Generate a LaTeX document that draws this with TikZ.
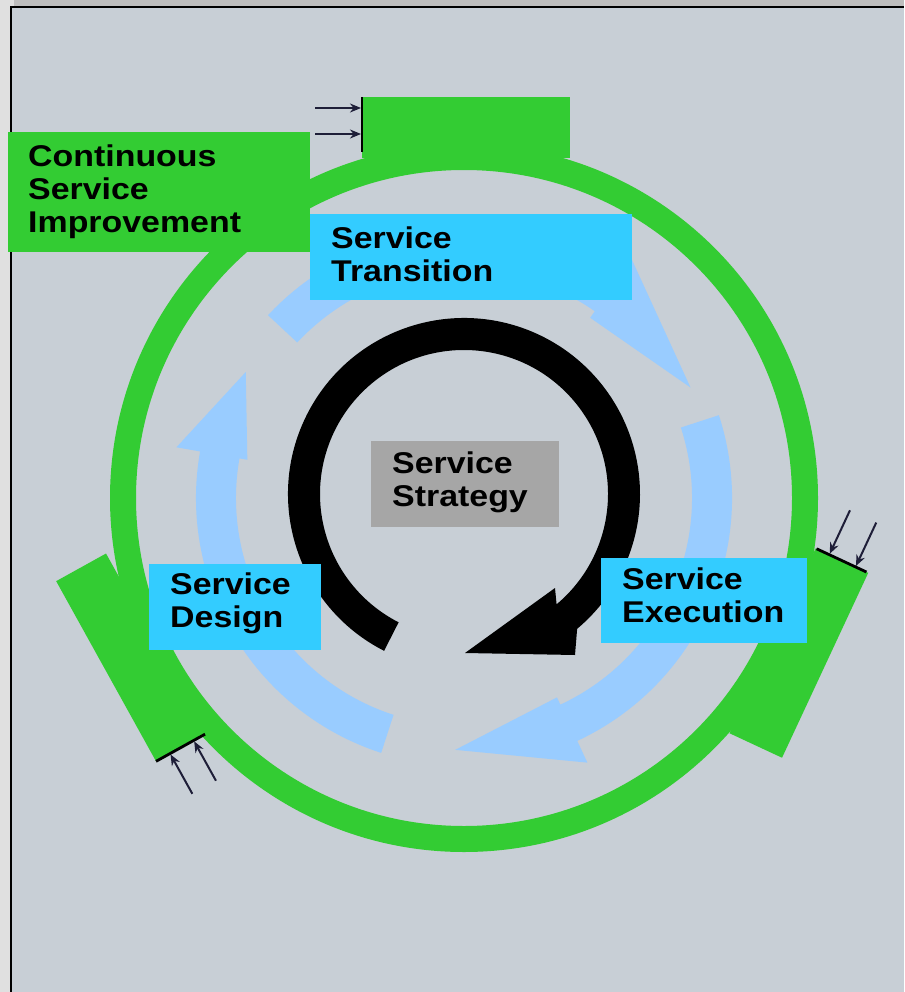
\documentclass[tikz,border=0pt]{standalone}
\usepackage{fontspec}
\newfontfamily\lblfont[FakeStretch=1.13]{Liberation Sans}
\usetikzlibrary{arrows.meta}
\definecolor{bgc}{HTML}{C8CFD6}
\definecolor{stripL}{HTML}{E0E0E0}
\definecolor{stripT}{HTML}{BEBEBE}
\definecolor{grn}{HTML}{33CC33}
\definecolor{cyanbox}{HTML}{33CCFF}
\definecolor{graybox}{HTML}{A6A6A6}
\definecolor{lblue}{HTML}{99CCFF}
\definecolor{arrdark}{HTML}{1E1E38}
\tikzset{
  box/.style={rectangle, inner sep=0pt, outer sep=0pt, draw=none, anchor=north west},
  lbl/.style={font=\lblfont\bfseries\fontsize{30}{33}\selectfont, align=left, inner sep=0pt, anchor=north west, text=black},
  tabline/.style={draw=black, line width=2.8pt},
  tabarrow/.style={draw=arrdark, line width=2pt, -{Stealth[length=11pt,width=9pt]}},
}
\newcommand\bluearc[3]{%
  \fill[lblue] (#1:268) arc[start angle=#1, end angle=#2, radius=268] -- (#2:292) -- (#3:252) -- (#2:220) -- (#2:228) arc[start angle=#2, end angle=#1, radius=228] -- cycle;}
\begin{document}
\begin{tikzpicture}[x=1pt,y=1pt]
\useasboundingbox (0,0) rectangle (904,-992);
% background and frame
\fill[stripL] (0,0) rectangle (904,-992);
\fill[stripT] (14,0) rectangle (904,-7);
\fill[bgc] (11,-7) rectangle (904,-992);
\draw[black, line width=2pt] (11,-992) -- (11,-7) -- (904,-7);

% green ring with tabs
\draw[grn, line width=26pt] (464,-498) circle (341);
\begin{scope}[shift={(464,-498)}]
  \fill[grn] (-102,340) rectangle (106,401);
  \begin{scope}[rotate=119]
    \fill[grn] (-81,340) rectangle (125,397);
  \end{scope}
  \begin{scope}[rotate=245]
    \fill[grn] (-103,340) rectangle (101,398);
  \end{scope}
  % light blue cycle arrows
  \bluearc{252}{170}{150}
  \bluearc{137}{55}{26}
  \bluearc{18}{-65}{-92}
\end{scope}

% black strategy arrow
\begin{scope}[shift={(464,-494)}]
  \fill[black] (243:176) arc[start angle=243, end angle=-50, radius=176]
    -- (111,-161) -- (1,-159) -- (91,-94) -- (-50:144)
    arc[start angle=-50, end angle=243, radius=144] -- cycle;
\end{scope}

% boxes
\node[box, fill=grn, minimum width=302pt, minimum height=120pt] (csibox) at (8,-132) {};
\node[lbl] (csitext) at (28,-145) {Continuous\\Service\\Improvement};
\node[box, fill=cyanbox, minimum width=322pt, minimum height=86pt] (transbox) at (310,-214) {};
\node[lbl] (transtext) at (331,-227) {Service\\Transition};
\node[box, fill=graybox, minimum width=188pt, minimum height=86pt] (stratbox) at (371,-441) {};
\node[lbl] (strattext) at (392,-452) {Service\\Strategy};
\node[box, fill=cyanbox, minimum width=172pt, minimum height=86pt] (desbox) at (149,-564) {};
\node[lbl] (destext) at (170,-573) {Service\\Design};
\node[box, fill=cyanbox, minimum width=206pt, minimum height=85pt] (execbox) at (601,-558) {};
\node[lbl] (exectext) at (622,-568) {Service\\Execution};

% tab markers
\begin{scope}[shift={(464,-498)}]
  \coordinate (t1a) at (-149,390); \coordinate (t1b) at (-103,390);
  \coordinate (t1c) at (-149,364); \coordinate (t1d) at (-103,364);
  \draw[tabline] (-102,346) -- (-102,401);
  \draw[tabarrow] (t1a) -- (t1b);
  \draw[tabarrow] (t1c) -- (t1d);
  \begin{scope}[rotate=119]
    \coordinate (t2a) at (-127,381); \coordinate (t2b) at (-82,381);
    \coordinate (t2c) at (-127,354); \coordinate (t2d) at (-82,354);
    \draw[tabline] (-81,341) -- (-81,397);
    \draw[tabarrow] (t2a) -- (t2b);
    \draw[tabarrow] (t2c) -- (t2d);
  \end{scope}
  \begin{scope}[rotate=245]
    \coordinate (t3a) at (-152,384); \coordinate (t3b) at (-104,384);
    \coordinate (t3c) at (-152,355); \coordinate (t3d) at (-104,355);
    \draw[tabline] (-103,341) -- (-103,396);
    \draw[tabarrow] (t3a) -- (t3b);
    \draw[tabarrow] (t3c) -- (t3d);
  \end{scope}
\end{scope}
\end{tikzpicture}
\end{document}
